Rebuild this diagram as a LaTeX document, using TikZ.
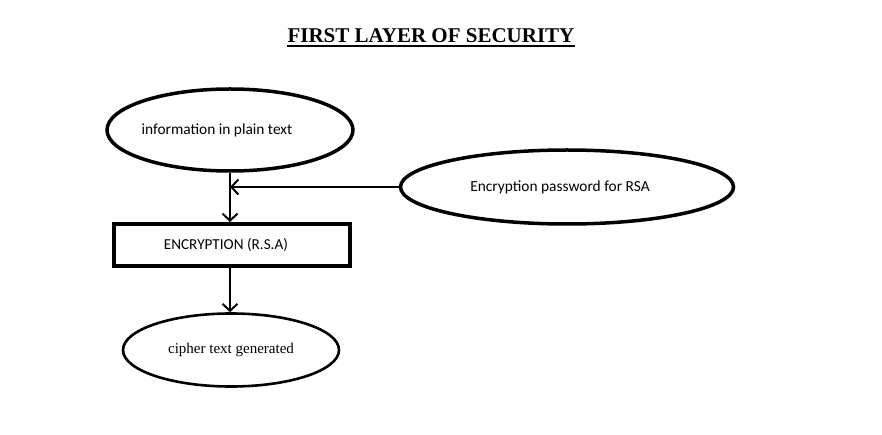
\documentclass[tikz,border=0pt]{standalone}
\usepackage{fontspec}
\usepackage{tikz}
\usetikzlibrary{calc,arrows.meta,shapes.geometric}
\setmainfont{Liberation Serif}
\newfontfamily\calibrifont{Carlito}
\newcommand{\nudge}[1]{\hspace*{-#1}}
\tikzset{
    bubble/.style={ellipse,draw,line width=3.5pt,inner sep=0pt,font=\calibrifont\fontsize{15.4}{17}\selectfont},
    bubble_thin/.style={ellipse,draw,line width=2.6pt,inner sep=0pt,font=\fontsize{15}{18}\selectfont},
    stagebox/.style={rectangle,draw,line width=4pt,inner sep=0pt,font=\calibrifont\fontsize{15.2}{17}\selectfont},
    flow/.style={-{Straight Barb[length=7pt,width=15pt,line width=2pt]},line width=2.4pt},
}
\begin{document}
\begin{tikzpicture}[x=1pt,y=-1pt]
  \useasboundingbox (0,0) rectangle (882,435);
  \node[font=\bfseries\fontsize{21}{25}\selectfont,inner sep=0pt] (title) at (431,36) {FIRST LAYER OF SECURITY};
  \draw[line width=2pt] ([yshift=-3pt]title.base west) -- ([yshift=-3pt]title.base east);
  % Draw the nodes
  \node[bubble,minimum width=246pt,minimum height=82pt] (plain) at (230,130) {\nudge{26pt}information in plain text};
  \node[bubble,minimum width=333pt,minimum height=74pt] (pass) at (567,187) {\nudge{14pt}Encryption password for RSA};
  \node[stagebox,minimum width=236pt,minimum height=42pt] (rsa) at (232,245) {\nudge{12pt}ENCRYPTION (R.S.A)};
  \node[bubble_thin,minimum width=216pt,minimum height=73pt] (cipher) at (231,350) {cipher text generated};
  \coordinate (join) at (plain.south |- pass.west);
  % Draw connectors
  \draw[flow] (pass.west) -- (join);
  \draw[flow] (plain.south) -- (plain.south |- rsa.north);
  \draw[flow] (rsa.south -| plain.south) -- (plain.south |- cipher.north);
\end{tikzpicture}
\end{document}
